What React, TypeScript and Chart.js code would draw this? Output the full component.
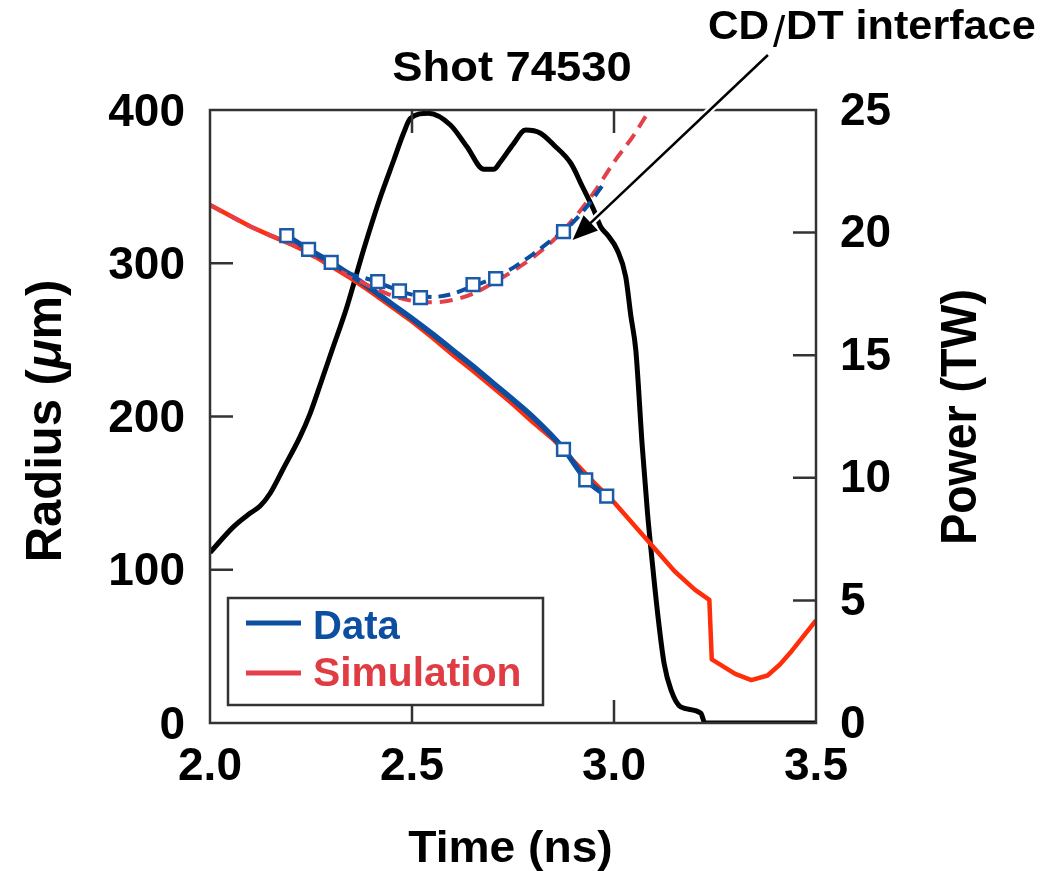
import React, { useEffect, useRef } from "react";
import { Chart, registerables } from "chart.js";

Chart.register(...registerables);

// ---------- data ----------
const powerTime = [2.0, 2.058, 2.099, 2.124, 2.149, 2.182, 2.223, 2.248, 2.277, 2.302, 2.339, 2.38, 2.422, 2.455, 2.479, 2.496, 2.541, 2.595, 2.636, 2.678, 2.702, 2.719, 2.752, 2.781, 2.818, 2.851, 2.893, 2.922, 2.95, 2.967, 2.984, 3.008, 3.029, 3.042, 3.054, 3.07, 3.083, 3.095, 3.108, 3.124, 3.141, 3.165, 3.215, 3.225, 3.5];
const powerTW = [6.95, 8.0, 8.55, 8.85, 9.37, 10.39, 11.68, 12.63, 14.0, 15.2, 16.98, 19.29, 21.46, 22.96, 24.05, 24.66, 24.87, 24.39, 23.5, 22.58, 22.58, 22.89, 23.64, 24.18, 24.05, 23.57, 22.83, 21.87, 20.92, 20.24, 19.9, 19.29, 18.2, 16.57, 15.2, 11.27, 8.55, 6.51, 4.47, 2.43, 1.35, 0.66, 0.4, 0.0, 0.0];

const simTime = [2.0, 2.05, 2.1, 2.15, 2.2, 2.25, 2.3, 2.35, 2.4, 2.45, 2.5, 2.55, 2.6, 2.65, 2.7, 2.75, 2.8, 2.85, 2.9, 2.95, 3.0, 3.05, 3.1, 3.15, 3.2, 3.236, 3.242, 3.27, 3.3, 3.34, 3.38, 3.41, 3.44, 3.47, 3.5];
const simRadius = [338, 331, 324, 318, 312.5, 306, 298, 290, 281, 271.5, 262, 251.5, 240.5, 230, 219, 208, 196, 185, 171, 157, 144, 129, 114, 99, 87, 80.3, 41.5, 37, 32, 28, 31, 38, 47, 57, 67];

const simIfTime = [2.0, 2.1, 2.2, 2.3, 2.35, 2.4, 2.45, 2.5, 2.55, 2.6, 2.65, 2.7, 2.75, 2.8, 2.85, 2.9, 2.95, 3.0, 3.05, 3.088];
const simIfRadius = [338, 324, 312.5, 298, 291, 284.5, 279, 275.5, 274.5, 276, 280, 287, 295, 304, 315, 329, 346, 366, 384, 400];

const dataTime = [2.19, 2.244, 2.3, 2.35, 2.4, 2.45, 2.5, 2.55, 2.6, 2.65, 2.7, 2.75, 2.8, 2.875, 2.93, 2.982];
const dataRadius = [318, 309, 300.5, 292, 283, 273.5, 264, 254, 243.5, 233, 222, 211, 199.5, 179, 159, 148];

const dataIfTime = [2.3, 2.35, 2.4, 2.45, 2.5, 2.55, 2.6, 2.65, 2.7, 2.75, 2.8, 2.85, 2.875, 2.926, 2.975];
const dataIfRadius = [300.5, 293, 289, 284, 279.5, 278, 280, 285, 290, 297, 306, 316, 320.6, 334.7, 352];

const markerTime = [2.19, 2.244, 2.3, 2.415, 2.469, 2.521, 2.651, 2.707, 2.875, 2.875, 2.93, 2.982];
const markerRadius = [318, 309, 300.6, 288, 282, 277.5, 286, 290, 320.6, 178.6, 158.6, 148];

const xTickLabels = ["2.0", "2.5", "3.0", "3.5"];
const legendLabels = ["Data", "Simulation"];
const titleText = "Shot 74530";
const annotationParts = ["CD", "/", "DT interface"];
const arrowTail = { t: 3.381, r: 435.9 };
const arrowTip = { t: 2.8976, r: 315.2 };

// ---------- styles ----------
const FONT = "'Liberation Sans', Arial, Helvetica, sans-serif";
const BLUE = "#0c4fa0";
const RED_SOLID = "#ff2d0a";
const RED_DASH = "#e3404a";
const AXIS = "#333333";

const pts = (xs: number[], ys: number[]) => xs.map((x, i) => ({ x, y: ys[i] }));

function stretchText(
  ctx: CanvasRenderingContext2D,
  text: string,
  x: number,
  y: number,
  font: string,
  sx: number,
  align: CanvasTextAlign,
  color: string
) {
  ctx.save();
  ctx.translate(x, y);
  ctx.scale(sx, 1);
  ctx.font = font;
  ctx.textAlign = align;
  ctx.textBaseline = "alphabetic";
  ctx.fillStyle = color;
  ctx.fillText(text, 0, 0);
  ctx.restore();
}

function rotatedRich(
  ctx: CanvasRenderingContext2D,
  parts: { text: string; font: string }[],
  cx: number,
  cy: number,
  baselineOffset: number,
  sx: number
) {
  ctx.save();
  ctx.translate(cx, cy);
  ctx.rotate(-Math.PI / 2);
  ctx.scale(sx, 1);
  ctx.fillStyle = "#000";
  ctx.textBaseline = "alphabetic";
  ctx.textAlign = "left";
  let total = 0;
  const widths = parts.map((p) => {
    ctx.font = p.font;
    const w = ctx.measureText(p.text).width;
    total += w;
    return w;
  });
  let x = -total / 2;
  parts.forEach((p, i) => {
    ctx.font = p.font;
    ctx.fillText(p.text, x, baselineOffset);
    x += widths[i];
  });
  ctx.restore();
}

const decorPlugin = {
  id: "decor",
  afterDraw(chart: any) {
    const { ctx, chartArea, scales } = chart;
    const { left, right, top, bottom } = chartArea;
    const xs = scales.x;
    const ys = scales.y;
    const y1 = scales.y1;

    ctx.save();
    // frame
    ctx.strokeStyle = AXIS;
    ctx.lineWidth = 2.5;
    ctx.strokeRect(left, top, right - left, bottom - top);

    // inward ticks
    const TL = 23;
    ctx.beginPath();
    xs.ticks.forEach((t: any) => {
      const px = xs.getPixelForValue(t.value);
      if (px <= left + 1 || px >= right - 1) return;
      ctx.moveTo(px, bottom);
      ctx.lineTo(px, bottom - TL);
      ctx.moveTo(px, top);
      ctx.lineTo(px, top + TL);
    });
    ys.ticks.forEach((t: any) => {
      const py = ys.getPixelForValue(t.value);
      if (py <= top + 1 || py >= bottom - 1) return;
      ctx.moveTo(left, py);
      ctx.lineTo(left + TL, py);
    });
    y1.ticks.forEach((t: any) => {
      const py = y1.getPixelForValue(t.value);
      if (py <= top + 1 || py >= bottom - 1) return;
      ctx.moveTo(right, py);
      ctx.lineTo(right - TL, py);
    });
    ctx.stroke();

    // title
    stretchText(ctx, titleText, 512, 81, `bold 42px ${FONT}`, 1.08, "center", "#000");

    // axis titles
    rotatedRich(
      ctx,
      [
        { text: "Radius (", font: `bold 50px ${FONT}` },
        { text: "\u03bc", font: `italic bold 50px ${FONT}` },
        { text: "m)", font: `bold 50px ${FONT}` },
      ],
      43,
      421,
      18,
      0.98
    );
    rotatedRich(ctx, [{ text: "Power (TW)", font: `bold 50px ${FONT}` }], 958, 417, 18, 0.93);
    stretchText(ctx, "Time (ns)", 510.5, 862, `bold 44px ${FONT}`, 1.05, "center", "#000");

    // legend
    const lx = 228, ly = 598, lw = 315, lh = 107;
    ctx.fillStyle = "#fff";
    ctx.fillRect(lx, ly, lw, lh);
    ctx.strokeStyle = AXIS;
    ctx.lineWidth = 2.5;
    ctx.strokeRect(lx, ly, lw, lh);
    ctx.lineWidth = 5;
    ctx.strokeStyle = BLUE;
    ctx.beginPath();
    ctx.moveTo(246, 623);
    ctx.lineTo(301, 623);
    ctx.stroke();
    ctx.strokeStyle = RED_DASH;
    ctx.beginPath();
    ctx.moveTo(246, 673);
    ctx.lineTo(301, 673);
    ctx.stroke();
    stretchText(ctx, legendLabels[0], 313, 639, `bold 40px ${FONT}`, 1.0, "left", BLUE);
    stretchText(ctx, legendLabels[1], 313, 686, `bold 40px ${FONT}`, 1.02, "left", "#e03c44");

    // annotation text
    stretchText(ctx, annotationParts[0], 708, 39, `bold 40px ${FONT}`, 1.06, "left", "#000");
    stretchText(ctx, annotationParts[1], 779, 47, `44px ${FONT}`, 1.0, "center", "#000");
    stretchText(ctx, annotationParts[2], 786, 39, `bold 40px ${FONT}`, 1.08, "left", "#000");

    // arrow
    const tx = xs.getPixelForValue(arrowTip.t);
    const ty = ys.getPixelForValue(arrowTip.r);
    const sxp = xs.getPixelForValue(arrowTail.t);
    const syp = ys.getPixelForValue(arrowTail.r);
    const ang = Math.atan2(ty - syp, tx - sxp);
    const headLen = 25, headHalf = 10.5;
    const bx = tx - headLen * Math.cos(ang);
    const by = ty - headLen * Math.sin(ang);
    ctx.lineCap = "butt";
    ctx.strokeStyle = "#fff";
    ctx.lineWidth = 7;
    ctx.beginPath();
    ctx.moveTo(sxp, syp);
    ctx.lineTo(bx + 6 * Math.cos(ang), by + 6 * Math.sin(ang));
    ctx.stroke();
    ctx.strokeStyle = "#000";
    ctx.lineWidth = 2.5;
    ctx.beginPath();
    ctx.moveTo(sxp, syp);
    ctx.lineTo(bx + 2 * Math.cos(ang), by + 2 * Math.sin(ang));
    ctx.stroke();
    ctx.fillStyle = "#000";
    ctx.beginPath();
    ctx.moveTo(tx, ty);
    ctx.lineTo(bx + headHalf * Math.sin(ang), by - headHalf * Math.cos(ang));
    ctx.lineTo(bx - headHalf * Math.sin(ang), by + headHalf * Math.cos(ang));
    ctx.closePath();
    ctx.fill();
    ctx.restore();
  },
};

export default function App() {
  const ref = useRef<HTMLCanvasElement | null>(null);

  useEffect(() => {
    if (!ref.current) return;
    const tickFont = { family: FONT, size: 46, weight: "bold" as const, lineHeight: 1.2 };
    const noGrid = { display: false, drawTicks: false };
    const chart = new Chart(ref.current, {
      type: "line",
      data: {
        datasets: [
          {
            label: "Data points",
            data: pts(markerTime, markerRadius),
            yAxisID: "y",
            showLine: false,
            pointStyle: "rect",
            pointRadius: 9,
            pointBorderWidth: 2.5,
            pointBorderColor: "#1a5aa8",
            pointBackgroundColor: "#ffffff",
            borderColor: "#1a5aa8",
            backgroundColor: "#ffffff",
            order: 0,
          },
          {
            label: "Data (CD/DT interface)",
            data: pts(dataIfTime, dataIfRadius),
            yAxisID: "y",
            borderColor: BLUE,
            borderWidth: 4,
            borderDash: [12, 7],
            pointRadius: 0,
            cubicInterpolationMode: "monotone",
            fill: false,
            order: 1,
          },
          {
            label: "Simulation (CD/DT interface)",
            data: pts(simIfTime, simIfRadius),
            yAxisID: "y",
            borderColor: RED_DASH,
            borderWidth: 4,
            borderDash: [13, 8],
            pointRadius: 0,
            cubicInterpolationMode: "monotone",
            fill: false,
            order: 2,
          },
          {
            label: "Data",
            data: pts(dataTime, dataRadius),
            yAxisID: "y",
            borderColor: BLUE,
            borderWidth: 5.5,
            pointRadius: 0,
            cubicInterpolationMode: "monotone",
            fill: false,
            order: 3,
          },
          {
            label: "Simulation",
            data: pts(simTime, simRadius),
            yAxisID: "y",
            borderColor: RED_SOLID,
            borderWidth: 4.5,
            pointRadius: 0,
            tension: 0,
            borderJoinStyle: "round",
            fill: false,
            order: 4,
          },
          {
            label: "Power",
            data: pts(powerTime, powerTW),
            yAxisID: "y1",
            borderColor: "#000000",
            borderWidth: 5,
            pointRadius: 0,
            cubicInterpolationMode: "monotone",
            fill: false,
            order: 5,
          },
        ],
      },
      options: {
        animation: false,
        responsive: false,
        devicePixelRatio: 1,
        events: [],
        layout: { padding: { top: 110, left: 0, right: 0, bottom: 0 } },
        plugins: {
          legend: { display: false },
          title: { display: false },
          tooltip: { enabled: false },
        },
        scales: {
          x: {
            type: "linear",
            min: 2.0,
            max: 3.5,
            grid: noGrid,
            border: { display: false },
            ticks: {
              stepSize: 0.5,
              padding: 17,
              color: "#000",
              font: tickFont,
              maxRotation: 0,
              autoSkip: false,
              callback: (v: any) => {
                const i = Math.round((Number(v) - 2.0) / 0.5);
                return xTickLabels[i] ?? Number(v).toFixed(1);
              },
            },
            afterFit: (s: any) => {
              s.height = 148;
            },
          },
          y: {
            type: "linear",
            position: "left",
            min: 0,
            max: 400,
            grid: noGrid,
            border: { display: false },
            ticks: { stepSize: 100, padding: 25, labelOffset: 3, color: "#000", font: tickFont },
            afterFit: (s: any) => {
              s.width = 210;
            },
          },
          y1: {
            type: "linear",
            position: "right",
            min: 0,
            max: 25,
            grid: noGrid,
            border: { display: false },
            ticks: { stepSize: 5, padding: 24, labelOffset: 2, color: "#000", font: tickFont },
            afterFit: (s: any) => {
              s.width = 228;
            },
          },
        },
      },
      plugins: [decorPlugin],
    });
    return () => chart.destroy();
  }, []);

  return (
    <div style={{ position: "absolute", left: 0, top: 0, width: 1044, height: 871, background: "#fff" }}>
      <canvas ref={ref} width={1044} height={871} style={{ display: "block" }} />
    </div>
  );
}
